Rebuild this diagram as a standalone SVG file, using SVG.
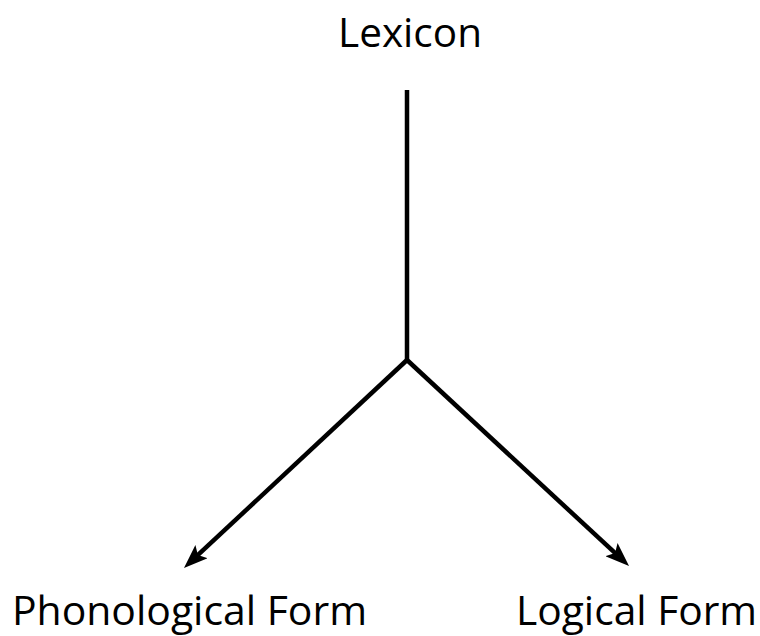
<svg xmlns="http://www.w3.org/2000/svg" width="760" height="636" viewBox="0 0 760 636">
<style>
.lbl{font-family:"Open Sans","Noto Sans","Liberation Sans",sans-serif;font-size:40px;fill:#000}
.edge{stroke:#000;stroke-width:4.5;fill:none}
</style>
<defs>
<marker id="ah" markerUnits="userSpaceOnUse" markerWidth="24" markerHeight="18" viewBox="0 0 24 18" refX="14" refY="9" orient="auto">
<path d="M0,0 L24,9 L0,18 L5,9 z" fill="#000"/>
</marker>
</defs>
<rect width="760" height="636" fill="#fff"/>
<g id="connectors">
<line class="edge" x1="407" y1="90" x2="407" y2="360"/>
<polyline class="edge" points="407,360 191.3,561.2" marker-end="url(#ah)"/>
<polyline class="edge" points="407,360 621.7,559.2" marker-end="url(#ah)"/>
</g>
<g id="lexicon"><text class="lbl" x="338" y="47" textLength="144" lengthAdjust="spacingAndGlyphs">Lexicon</text></g>
<g id="pf"><text class="lbl" x="12" y="625" textLength="355" lengthAdjust="spacingAndGlyphs">Phonological Form</text></g>
<g id="lf"><text class="lbl" x="516" y="625" textLength="241" lengthAdjust="spacingAndGlyphs">Logical Form</text></g>
</svg>
